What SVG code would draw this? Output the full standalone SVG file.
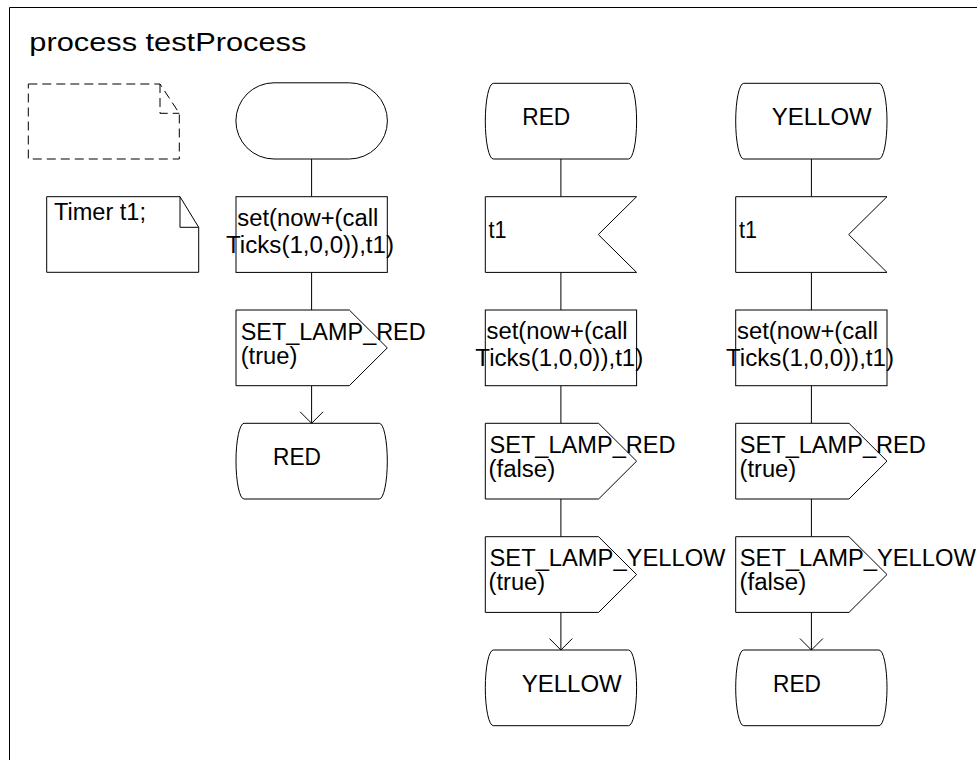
<svg xmlns="http://www.w3.org/2000/svg" width="977" height="760" viewBox="0 0 977 760">
<style>
.s{fill:#fff;stroke:#000;stroke-width:1}
.n{fill:none;stroke:#000;stroke-width:1}
.d{fill:none;stroke:#000;stroke-width:1;stroke-dasharray:9,5}
.c{fill:none;stroke:#000;stroke-width:1}
text{font-family:"Liberation Sans",Arial,sans-serif;font-size:23.5px;fill:#000}
.t{font-size:25px}
</style>
<rect x="0" y="0" width="977" height="760" fill="#fff"/>
<g id="frame">
<path class="n" d="M9.5,760 V7.5 H977"/>
<text class="t" x="29.3" y="50.7" textLength="277" lengthAdjust="spacingAndGlyphs">process testProcess</text>
</g>
<g id="note-empty">
<path class="d" d="M28.3,84 H160 L179.3,113.3 V159 H28.3 Z M160,84 V113.3 H179.3"/>
</g>
<g id="note-timer">
<path class="s" d="M46.7,196.7 H180 L198.7,227.3 V272.3 H46.7 Z"/>
<path class="n" d="M180,196.7 V227.3 H198.7"/>
<text x="54" y="219.5" textLength="92" lengthAdjust="spacingAndGlyphs">Timer t1;</text>
</g>
<g id="connectors">
<path class="c" d="M311.6,159 V196.7 M311.6,272.4 V310 M311.6,385.7 V423.3"/>
<path class="c" d="M300.1,411.8 L311.6,423.3 L323.1,411.8"/>
<path class="c" d="M560.9,159 V196.7 M560.9,272.4 V310 M560.9,385.7 V423.3 M560.9,499 V536.7 M560.9,612.4 V650"/>
<path class="c" d="M549.4,638.5 L560.9,650 L572.4,638.5"/>
<path class="c" d="M811.4,159 V196.7 M811.4,272.4 V310 M811.4,385.7 V423.3 M811.4,499 V536.7 M811.4,612.4 V650"/>
<path class="c" d="M799.9,638.5 L811.4,650 L822.9,638.5"/>
</g>
<g id="start">
<path class="s" d="M274,82.8 H349.3 A38.1,38.1 0 0 1 349.3,159 H274 A38.1,38.1 0 0 1 274,82.8 Z"/>
</g>
<g id="task1">
<rect class="s" x="236" y="196.7" width="151.3" height="75.7"/>
<text x="237.3" y="226" textLength="141" lengthAdjust="spacingAndGlyphs">set(now+(call</text>
<text x="226" y="252.7" textLength="168" lengthAdjust="spacingAndGlyphs">Ticks(1,0,0)),t1)</text>
</g>
<g id="output1">
<path class="s" d="M236,310 H349.3 L387.3,347.85 L349.3,385.7 H236 Z"/>
<text x="240.7" y="339.5" textLength="185" lengthAdjust="spacingAndGlyphs">SET_LAMP_RED</text>
<text x="240.7" y="363.5" textLength="56.7" lengthAdjust="spacingAndGlyphs">(true)</text>
</g>
<g id="state1">
<path class="s" d="M244,423.3 H379.3 A8,37.85 0 0 1 379.3,499 H244 A8,37.85 0 0 1 244,423.3 Z"/>
<text x="273" y="465" textLength="48" lengthAdjust="spacingAndGlyphs">RED</text>
</g>
<g id="state2">
<path class="s" d="M493.3,83.3 H628.6 A8,37.85 0 0 1 628.6,159 H493.3 A8,37.85 0 0 1 493.3,83.3 Z"/>
<text x="522.3" y="124.8" textLength="48" lengthAdjust="spacingAndGlyphs">RED</text>
</g>
<g id="input2">
<path class="s" d="M485.3,196.7 H636.6 L598.3,234.55 L636.6,272.4 H485.3 Z"/>
<text x="488.5" y="238.3" textLength="18" lengthAdjust="spacingAndGlyphs">t1</text>
</g>
<g id="task2">
<rect class="s" x="485.3" y="310" width="151.3" height="75.7"/>
<text x="486.6" y="339.3" textLength="141" lengthAdjust="spacingAndGlyphs">set(now+(call</text>
<text x="475.3" y="366" textLength="168" lengthAdjust="spacingAndGlyphs">Ticks(1,0,0)),t1)</text>
</g>
<g id="output2a">
<path class="s" d="M485.3,423.3 H598.6 L636.6,461.15 L598.6,499 H485.3 Z"/>
<text x="489.5" y="452.5" textLength="186" lengthAdjust="spacingAndGlyphs">SET_LAMP_RED</text>
<text x="488.5" y="476.5" textLength="66.7" lengthAdjust="spacingAndGlyphs">(false)</text>
</g>
<g id="output2b">
<path class="s" d="M485.3,536.7 H598.6 L636.6,574.55 L598.6,612.4 H485.3 Z"/>
<text x="489.5" y="565.9" textLength="236" lengthAdjust="spacingAndGlyphs">SET_LAMP_YELLOW</text>
<text x="488.5" y="589.9" textLength="56.7" lengthAdjust="spacingAndGlyphs">(true)</text>
</g>
<g id="state2b">
<path class="s" d="M493.3,650 H628.6 A8,37.85 0 0 1 628.6,725.7 H493.3 A8,37.85 0 0 1 493.3,650 Z"/>
<text x="521.7" y="691.5" textLength="100" lengthAdjust="spacingAndGlyphs">YELLOW</text>
</g>
<g id="state3">
<path class="s" d="M743.7,83.3 H879 A8,37.85 0 0 1 879,159 H743.7 A8,37.85 0 0 1 743.7,83.3 Z"/>
<text x="771.7" y="124.8" textLength="100" lengthAdjust="spacingAndGlyphs">YELLOW</text>
</g>
<g id="input3">
<path class="s" d="M735.7,196.7 H887 L848.7,234.55 L887,272.4 H735.7 Z"/>
<text x="739" y="238.3" textLength="18" lengthAdjust="spacingAndGlyphs">t1</text>
</g>
<g id="task3">
<rect class="s" x="735.7" y="310" width="151.3" height="75.7"/>
<text x="737" y="339.3" textLength="141" lengthAdjust="spacingAndGlyphs">set(now+(call</text>
<text x="726" y="366" textLength="168" lengthAdjust="spacingAndGlyphs">Ticks(1,0,0)),t1)</text>
</g>
<g id="output3a">
<path class="s" d="M735.7,423.3 H849 L887,461.15 L849,499 H735.7 Z"/>
<text x="739.8" y="452.5" textLength="186" lengthAdjust="spacingAndGlyphs">SET_LAMP_RED</text>
<text x="739.5" y="476.5" textLength="56.7" lengthAdjust="spacingAndGlyphs">(true)</text>
</g>
<g id="output3b">
<path class="s" d="M735.7,536.7 H849 L887,574.55 L849,612.4 H735.7 Z"/>
<text x="739.8" y="565.9" textLength="236" lengthAdjust="spacingAndGlyphs">SET_LAMP_YELLOW</text>
<text x="739.5" y="589.9" textLength="66.7" lengthAdjust="spacingAndGlyphs">(false)</text>
</g>
<g id="state3b">
<path class="s" d="M743.7,650 H879 A8,37.85 0 0 1 879,725.7 H743.7 A8,37.85 0 0 1 743.7,650 Z"/>
<text x="773" y="691.5" textLength="48" lengthAdjust="spacingAndGlyphs">RED</text>
</g>
</svg>
